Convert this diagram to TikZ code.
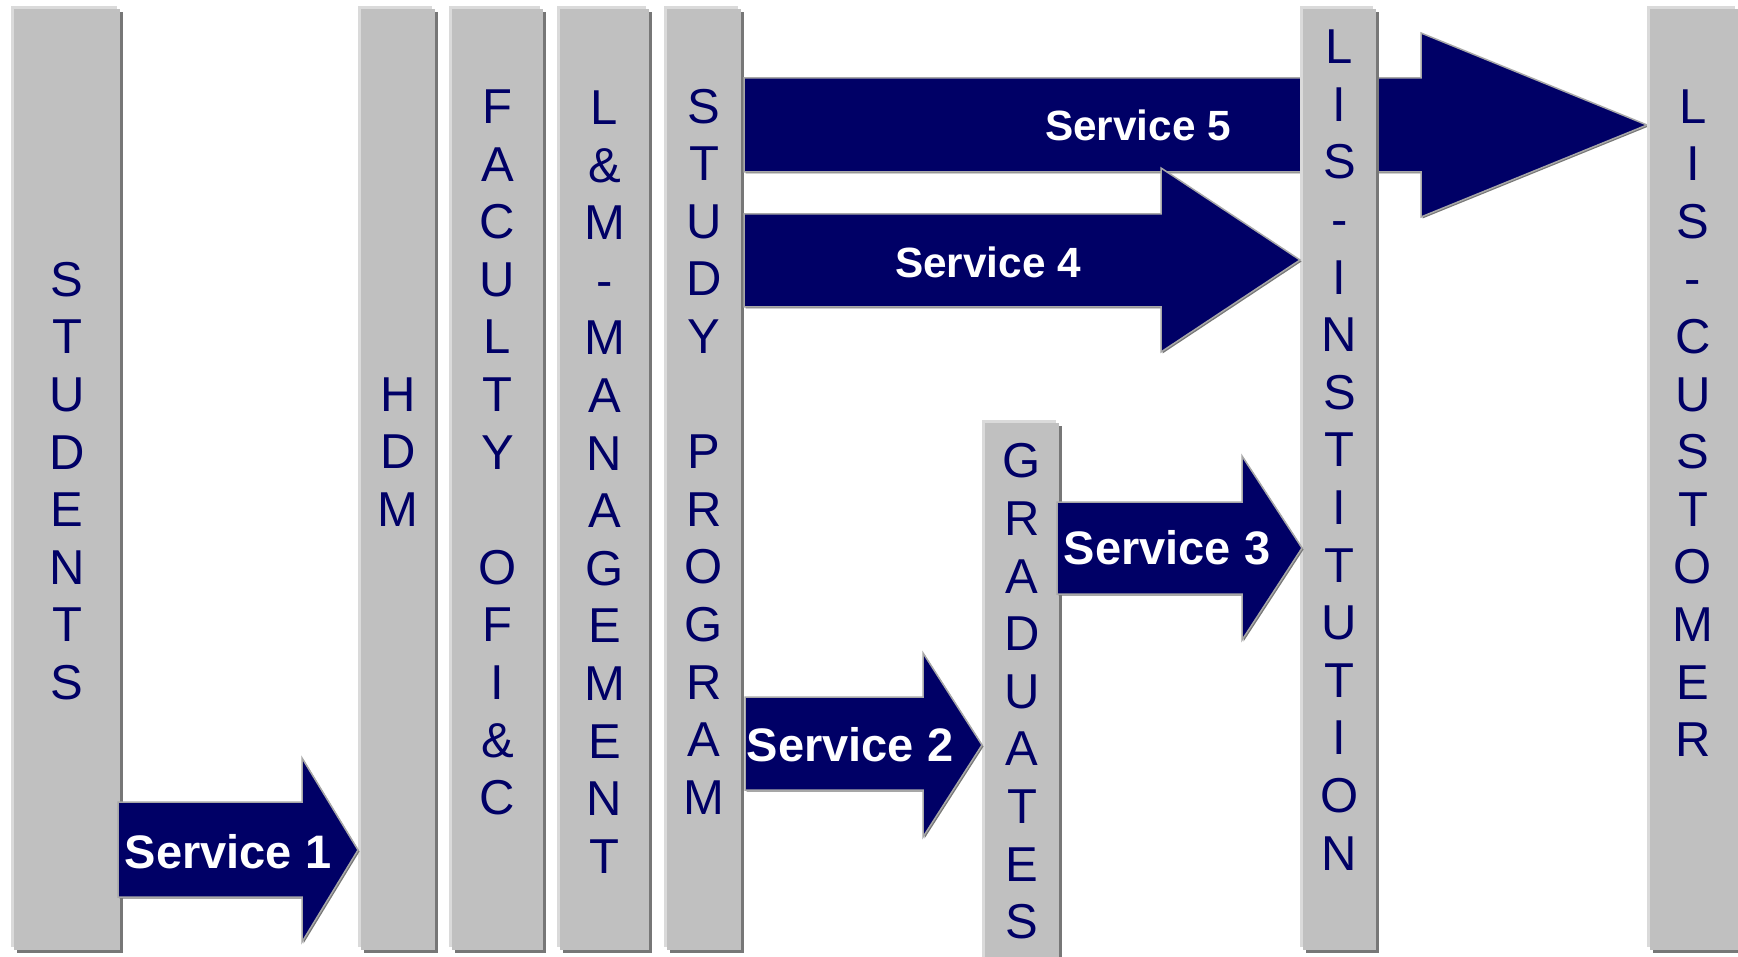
\documentclass[tikz,border=0pt]{standalone}
\usepackage{fontspec}
\setmainfont{Liberation Sans}
\usetikzlibrary{shadows}
\definecolor{navy}{HTML}{000066}
\definecolor{barfill}{HTML}{C0C0C0}
\definecolor{barlight}{HTML}{DADADA}
\definecolor{bardark}{HTML}{777777}
\definecolor{arrowedge}{HTML}{A8A8A8}
\tikzset{
  bar/.style={rectangle, inner sep=0pt, fill=barfill, draw=none,
    general shadow={fill=barlight, shadow xshift=-3pt, shadow yshift=3pt},
    general shadow={fill=bardark, shadow xshift=3pt, shadow yshift=-3pt}},
  barlabel/.style={inner sep=0pt, align=center, text=navy,
    font=\fontsize{49}{57.6}\selectfont},
  svcarrow/.style={fill=navy, draw=arrowedge, line width=1.5pt, line join=miter,
    general shadow={fill=bardark, shadow xshift=1.5pt, shadow yshift=-1.5pt}},
  svclabel/.style={inner sep=0pt, text=white,
    font=\fontsize{47}{56}\selectfont\bfseries},
  svclabelsmall/.style={svclabel, font=\fontsize{42.3}{50}\selectfont\bfseries},
}
\begin{document}
\begin{tikzpicture}[x=1pt,y=-1pt]
\useasboundingbox (0,0) rectangle (1738,957);
\clip (0,0) rectangle (1738,957);
\fill[white] (0,0) rectangle (1738,957);

% bars
\node[bar, minimum width=106pt, minimum height=941pt] (students) at (67,479.5) {};
\node[bar, minimum width=74pt, minimum height=941pt] (hdm) at (398,479.5) {};
\node[bar, minimum width=91pt, minimum height=941pt] (faculty) at (497.5,479.5) {};
\node[bar, minimum width=89pt, minimum height=941pt] (lm) at (604.5,479.5) {};
\node[bar, minimum width=74pt, minimum height=941pt] (study) at (704,479.5) {};
\node[bar, minimum width=74pt, minimum height=540pt] (graduates) at (1022,693) {};

% service 5 (passes under LIS-INSTITUTION)
\path[svcarrow] (744,78) -- (1421,78) -- (1421,33) -- (1647,125) -- (1421,217)
  -- (1421,172) -- (744,172) -- cycle;

\node[bar, minimum width=73pt, minimum height=941pt] (lisinst) at (1339.5,479.5) {};
\node[bar, minimum width=88pt, minimum height=941pt] (liscust) at (1694,479.5) {};

% bar labels
\node[barlabel] (tstudents) at (67,481) {S\\T\\U\\D\\E\\N\\T\\S};
\node[barlabel] (thdm) at (398,452) {H\\D\\M};
\node[barlabel] (tfaculty) at (497.5,452.5) {F\\A\\C\\U\\L\\T\\Y\\\mbox{}\\O\\F\\I\\\&\\C};
\node[barlabel] (tlm) at (604.5,482) {L\\\&\\M\\-\\M\\A\\N\\A\\G\\E\\M\\E\\N\\T};
\node[barlabel] (tstudy) at (704,451.5) {S\\T\\U\\D\\Y\\\mbox{}\\P\\R\\O\\G\\R\\A\\M};
\node[barlabel] (tgraduates) at (1022,691.5) {G\\R\\A\\D\\U\\A\\T\\E\\S};
\node[barlabel] (tlisinst) at (1339.5,450) {L\\I\\S\\-\\I\\N\\S\\T\\I\\T\\U\\T\\I\\O\\N};
\node[barlabel] (tliscust) at (1693,423) {L\\I\\S\\-\\C\\U\\S\\T\\O\\M\\E\\R};

% other service arrows
\path[svcarrow] (118,802) -- (302,802) -- (302,758) -- (358,850) -- (302,942)
  -- (302,897) -- (118,897) -- cycle;
\path[svcarrow] (745,697) -- (923,697) -- (923,653) -- (982,745) -- (923,837)
  -- (923,790) -- (745,790) -- cycle;
\path[svcarrow] (1057,502) -- (1242,502) -- (1242,456) -- (1302,548) -- (1242,640)
  -- (1242,594) -- (1057,594) -- cycle;
\path[svcarrow] (744,214) -- (1161,214) -- (1161,168) -- (1300,260) -- (1161,352)
  -- (1161,307) -- (744,307) -- cycle;

% service labels
\node[svclabel] (s1) at (228,852) {Service 1};
\node[svclabel] (s2) at (850,745) {Service 2};
\node[svclabel] (s3) at (1167,548) {Service 3};
\node[svclabelsmall] (s4) at (988,262) {Service 4};
\node[svclabelsmall] (s5) at (1138,125) {Service 5};
\end{tikzpicture}
\end{document}
